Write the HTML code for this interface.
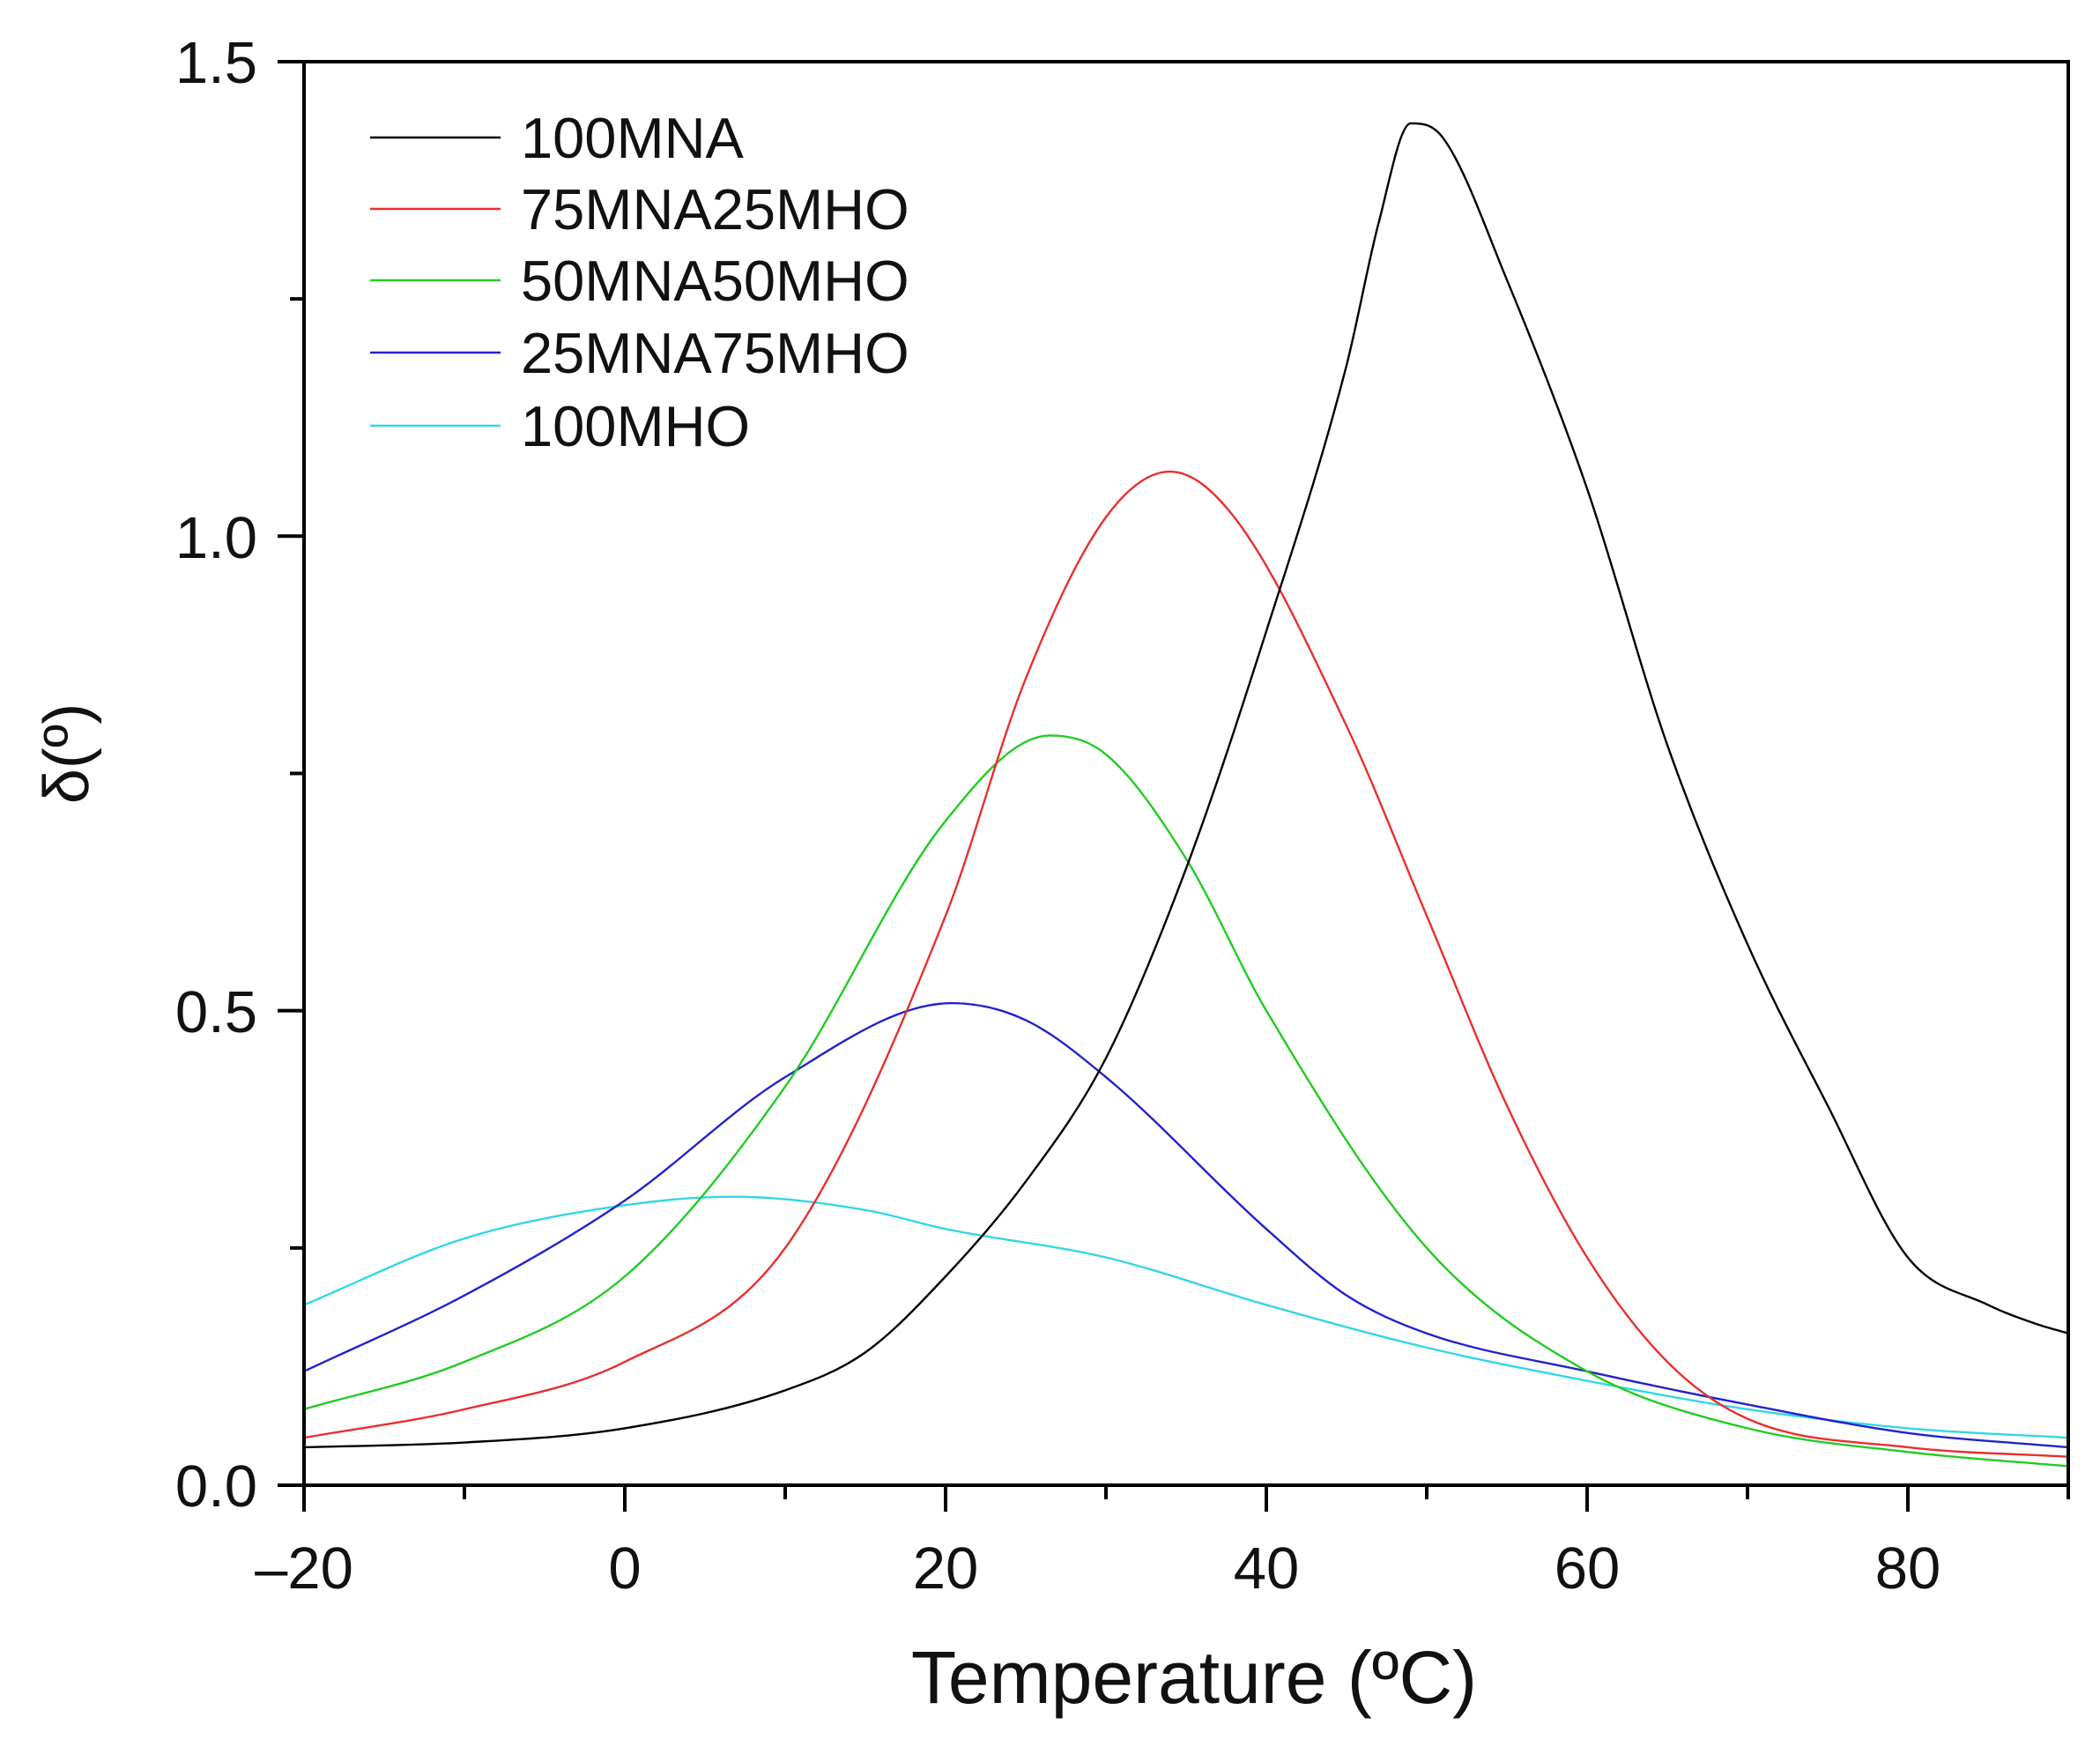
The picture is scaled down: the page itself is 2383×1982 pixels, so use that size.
<!DOCTYPE html>
<html><head><meta charset="utf-8"><style>
html,body{margin:0;padding:0;background:#fff}
svg text{font-family:"Liberation Sans",Arial,sans-serif;fill:#111}
</style></head><body>
<svg id="s" width="2383" height="1977" xmlns="http://www.w3.org/2000/svg">
<g id="curves" fill="none" stroke-width="2.4"></g>
<rect x="345" y="70" width="2002" height="1615" fill="none" stroke="#000" stroke-width="4"/>
<g id="ticks" stroke="#000" stroke-width="4"></g>
<g font-size="67">
<text x="292" y="94" text-anchor="end">1.5</text>
<text x="292" y="633" text-anchor="end">1.0</text>
<text x="292" y="1171" text-anchor="end">0.5</text>
<text x="292" y="1709" text-anchor="end">0.0</text>
<text x="345" y="1802" text-anchor="middle">–20</text>
<text x="709" y="1802" text-anchor="middle">0</text>
<text x="1073" y="1802" text-anchor="middle">20</text>
<text x="1437" y="1802" text-anchor="middle">40</text>
<text x="1801" y="1802" text-anchor="middle">60</text>
<text x="2165" y="1802" text-anchor="middle">80</text>
</g>
<text x="1355" y="1932" font-size="84" text-anchor="middle">Temperature (ºC)</text>
<text transform="translate(100,855) rotate(-90)" font-size="72" text-anchor="middle">δ(º)</text>
<g font-size="65">
<line x1="420" y1="156" x2="568" y2="156" stroke="#000" stroke-width="2.4"/><text x="591" y="179">100MNA</text>
<line x1="420" y1="237" x2="568" y2="237" stroke="#e8302e" stroke-width="2.4"/><text x="591" y="260">75MNA25MHO</text>
<line x1="420" y1="318" x2="568" y2="318" stroke="#22cc22" stroke-width="2.4"/><text x="591" y="341">50MNA50MHO</text>
<line x1="420" y1="400" x2="568" y2="400" stroke="#2222cc" stroke-width="2.4"/><text x="591" y="423">25MNA75MHO</text>
<line x1="420" y1="483" x2="568" y2="483" stroke="#33d6e6" stroke-width="2.4"/><text x="591" y="506">100MHO</text>
</g>
</svg>
<script>
var X=function(t){return 345+(t+20)*18.2},Y=function(v){return 1685-v*1076.7};
var S=[
["#33d6e6",[[-20,.19],[-10,.26],[0,.295],[6.7,.304],[15,.29],[20,.27],[30,.24],[40,.19],[50,.145],[60,.11],[70,.08],[80,.06],[90,.05]]],
["#2222cc",[[-20,.12],[-10,.2],[0,.3],[10,.43],[20.4,.508],[25,.49],[30,.43],[40,.27],[45,.2],[50,.16],[60,.12],[70,.085],[80,.055],[90,.04]]],
["#22cc22",[[-20,.08],[-10,.13],[0,.22],[10,.42],[20,.7],[26.5,.79],[30,.77],[35,.66],[40,.5],[50,.25],[60,.12],[70,.06],[80,.035],[90,.02]]],
["#e8302e",[[-20,.05],[-10,.08],[0,.13],[10,.25],[20,.6],[25,.85],[30,1.02],[34,1.068],[38,1.02],[45,.8],[50,.6],[55,.4],[60,.24],[65,.13],[70,.07],[80,.04],[90,.03]]],
["#000",[[-20,.04],[-10,.045],[0,.06],[10,.1],[15,.14],[20,.22],[25,.32],[30,.45],[35,.65],[40,.9],[45,1.18],[47,1.33],[49,1.435],[51,1.42],[55,1.27],[60,1.05],[65,.78],[70,.57],[75,.4],[80,.24],[85,.19],[88,.17],[90,.16]]]
];
function mono(P){var n=P.length,d=[],m=[];
for(var i=0;i<n-1;i++)d.push((P[i+1][1]-P[i][1])/(P[i+1][0]-P[i][0]));
m[0]=d[0];m[n-1]=d[n-2];
for(i=1;i<n-1;i++){m[i]=(d[i-1]*d[i]<=0)?0:(d[i-1]+d[i])/2;}
for(i=0;i<n-1;i++){if(d[i]==0){m[i]=m[i+1]=0;continue;}var a=m[i]/d[i],b=m[i+1]/d[i],s=a*a+b*b;if(s>9){var t=3/Math.sqrt(s);m[i]=t*a*d[i];m[i+1]=t*b*d[i];}}
var str="M"+X(P[0][0])+","+Y(P[0][1]);
for(i=0;i<n-1;i++){var h=P[i+1][0]-P[i][0];
str+="C"+X(P[i][0]+h/3)+","+Y(P[i][1]+m[i]*h/3)+" "+X(P[i+1][0]-h/3)+","+Y(P[i+1][1]-m[i+1]*h/3)+" "+X(P[i+1][0])+","+Y(P[i+1][1]);}
return str;}
var g=document.getElementById('curves'),ns="http://www.w3.org/2000/svg";
S.forEach(function(s){var e=document.createElementNS(ns,"path");e.setAttribute("d",mono(s[1]));e.setAttribute("stroke",s[0]);g.appendChild(e);});
var t=document.getElementById('ticks'),h="";
for(var v=-20;v<=90;v+=10){var x=X(v),L=(v%20==0)?30:16;h+='<line x1="'+x+'" y1="1685" x2="'+x+'" y2="'+(1685+L)+'"/>';}
for(var k=0;k<=6;k++){var y=Y(k*.25),L=(k%2==0)?30:16;h+='<line x1="345" y1="'+y+'" x2="'+(345-L)+'" y2="'+y+'"/>';}
t.innerHTML=h;
</script>
</body></html>
